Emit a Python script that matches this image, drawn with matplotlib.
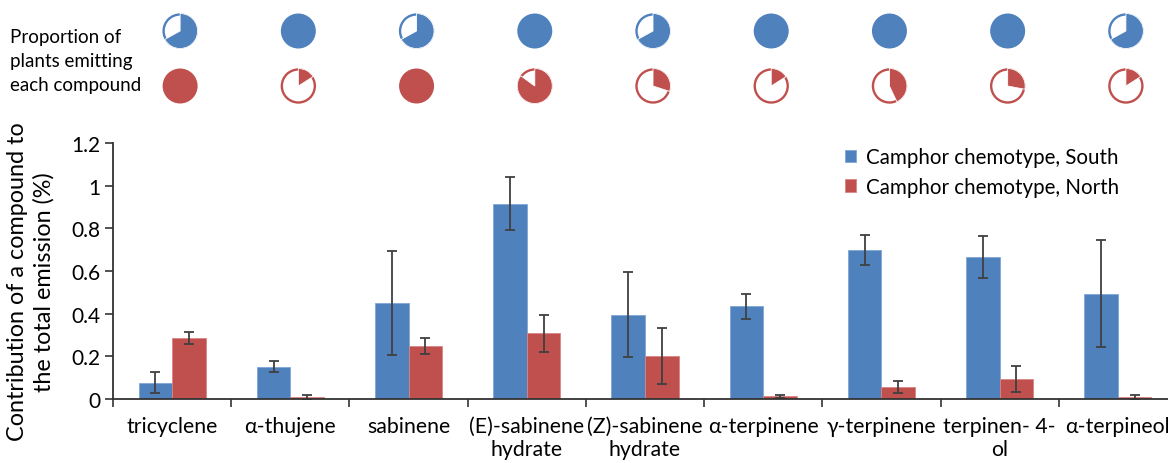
import numpy as np
import matplotlib
matplotlib.use("Agg")
import matplotlib.pyplot as plt
from matplotlib.patches import Wedge, Circle

# Data
compounds = ["tricyclene", "α-thujene", "sabinene", "(E)-sabinene\nhydrate",
             "(Z)-sabinene\nhydrate", "α-terpinene", "γ-terpinene",
             "terpinen- 4-\nol", "α-terpineol"]
south_mean = [0.077, 0.151, 0.451, 0.916, 0.395, 0.434, 0.698, 0.666, 0.494]
south_err = [0.048, 0.026, 0.243, 0.126, 0.200, 0.057, 0.069, 0.098, 0.251]
north_mean = [0.286, 0.008, 0.247, 0.309, 0.200, 0.012, 0.056, 0.094, 0.008]
north_err = [0.029, 0.011, 0.038, 0.087, 0.131, 0.009, 0.028, 0.062, 0.011]

# proportion of plants emitting each compound (pie fill fraction)
south_prop = [0.67, 1, 0.67, 1, 0.67, 1, 1, 1, 0.67]
north_prop = [1, 0.16, 1, 0.85, 0.30, 0.16, 0.43, 0.28, 0.16]

series_labels = ["Camphor chemotype, South", "Camphor chemotype, North"]
yticks = [0, 0.2, 0.4, 0.6, 0.8, 1, 1.2]
ytick_labels = ["0", "0.2", "0.4", "0.6", "0.8", "1", "1.2"]

COLORS = {"south": "#4F81BD", "north": "#C0504D", "err": "#404040"}

W, H = 1168, 464
plt.rcParams["font.family"] = ["Lato", "DejaVu Sans"]

fig = plt.figure(figsize=(W / 100, H / 100), dpi=100)

# main bar axes (extends past the right edge like the cropped original)
ax = fig.add_axes([113 / W, (H - 400) / H, (1177 - 113) / W, (400 - 144) / H])
x = np.arange(len(compounds))
bw = 0.284
err_kw = dict(ecolor=COLORS["err"], elinewidth=1.3, capsize=3.5, capthick=1.3)
ax.bar(x - bw / 2, south_mean, bw, yerr=south_err, color=COLORS["south"],
       edgecolor="#7fa6d6", linewidth=0.6, error_kw=err_kw, label=series_labels[0])
ax.bar(x + bw / 2, north_mean, bw, yerr=north_err, color=COLORS["north"],
       edgecolor="#d98583", linewidth=0.6, error_kw=err_kw, label=series_labels[1])

ax.set_xlim(-0.5, len(compounds) - 0.5)
ax.set_ylim(0, 1.2)
ax.set_yticks(yticks)
ax.set_yticklabels(ytick_labels, fontsize=15)
ax.set_xticks(x)
ax.set_xticklabels(compounds, fontsize=15.3, linespacing=1.2)
ax.set_xticks(np.arange(len(compounds) + 1) - 0.5, minor=True)
ax.tick_params(axis="x", which="major", length=0, pad=12)
ax.tick_params(axis="x", which="minor", length=6, width=1.2, color="#333333")
ax.tick_params(axis="y", length=6, width=1.2, color="#333333", pad=3)
for s in ["top", "right"]:
    ax.spines[s].set_visible(False)
for s in ["left", "bottom"]:
    ax.spines[s].set_linewidth(1.3)
    ax.spines[s].set_color("#333333")

fig.text(31 / W, 1 - 282 / H, "Contribution of a compound to\nthe total emission (%)",
         rotation=90, ha="center", va="center", fontsize=16.8, linespacing=1.3)

ax.legend(loc="upper left", bbox_to_anchor=(826 / W, 1 - 130 / H),
          bbox_transform=fig.transFigure, frameon=False, fontsize=14.8,
          handlelength=0.55, handleheight=0.55, handletextpad=0.5,
          labelspacing=0.45)

# pie row overlay in pixel coordinates, pies sit just right of each category centre
pax = fig.add_axes([0, 0, 1, 1])
pax.set_xlim(0, W)
pax.set_ylim(0, H)
pax.axis("off")
fig.canvas.draw()
centres_px = ax.transData.transform(np.column_stack([x, np.zeros(len(x))]))[:, 0]
pie_x = centres_px + 8
r = 17.5


def draw_pie(cx, cy, frac, color):
    if frac >= 1:
        pax.add_patch(Circle((cx, cy), r, color=color, lw=0))
        return
    pax.add_patch(Circle((cx, cy), r - 1, facecolor="white", edgecolor=color, lw=1.7))
    pax.add_patch(Wedge((cx, cy), r, 90 - frac * 360, 90, facecolor=color,
                        edgecolor="white", lw=0.6))


for cx, fs, fn in zip(pie_x, south_prop, north_prop):
    draw_pie(cx, H - 32, fs, COLORS["south"])
    draw_pie(cx, H - 87, fn, COLORS["north"])

fig.text(10 / W, 1 - 61 / H, "Proportion of\nplants emitting\neach compound",
         ha="left", va="center", fontsize=13.5, linespacing=1.5)

fig.savefig("out.png", dpi=100)
